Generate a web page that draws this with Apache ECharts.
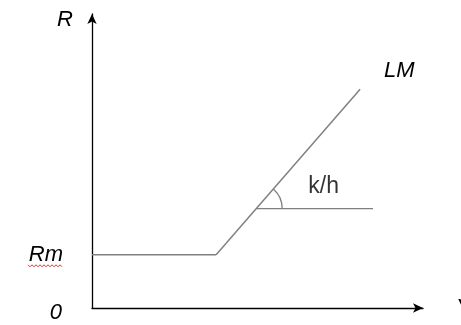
<!DOCTYPE html>
<html>
<head>
<meta charset="utf-8">
<script src="https://cdn.jsdelivr.net/npm/echarts@6/dist/echarts.min.js"></script>
<style>
  html, body { margin: 0; padding: 0; background: #fff; }
  #chart { width: 461px; height: 325px; }
</style>
</head>
<body>
<div id="chart"></div>
<script>
  // data in axis units (x: 0..100 income, y: 0..100 interest rate)
  const rmValue = 18.1
  const rmLine = [[0, 18.1], [37.5, 18.1]]
  const lmLine = [[37.5, 18.1], [81, 74.4]]
  const refLine = [[49.6, 33.8], [84.9, 33.8]]
  const slopeLabel = [[70, 33.8]]
  const axisNames = { x: 'Y', y: 'R' }
  const tickLabels = { 0: '0', [rmValue]: 'Rm' }

  const font = 'Liberation Sans, Arial, sans-serif'
  const fs = 22
  const gray = '#808080'

  const chart = echarts.init(document.getElementById('chart'))

  chart.setOption({
    animation: false,
    grid: { left: 92, right: 38, top: 14, bottom: 17, outerBoundsMode: 'none', containLabel: false },
    xAxis: {
      type: 'value',
      min: 0,
      max: 100,
      name: axisNames.x,
      nameLocation: 'end',
      nameGap: 33,
      nameTextStyle: { fontFamily: font, fontSize: fs, fontStyle: 'italic', color: '#000', padding: [4, 0, 0, 0] },
      axisLine: { show: true, symbol: ['none', 'arrow'], symbolSize: [7, 10], lineStyle: { color: '#000', width: 1.3 } },
      axisTick: { show: false },
      axisLabel: { show: false },
      splitLine: { show: false },
    },
    yAxis: {
      type: 'value',
      min: 0,
      max: 100,
      name: axisNames.y,
      nameLocation: 'end',
      nameGap: -6,
      nameTextStyle: { fontFamily: font, fontSize: fs, fontStyle: 'italic', color: '#000', align: 'right', verticalAlign: 'middle', padding: [0, 19, 0, 0] },
      axisLine: { show: true, symbol: ['none', 'arrow'], symbolSize: [7, 10], lineStyle: { color: '#000', width: 1.3 } },
      axisTick: { show: false },
      splitLine: { show: false },
      axisLabel: {
        show: true,
        margin: 29,
        customValues: [0, rmValue],
        formatter: (v) => (v === 0 ? '{z|' + tickLabels[v] + '}' : '{rm|' + tickLabels[v] + '}'),
        rich: {
          z: { fontFamily: font, fontSize: fs, fontStyle: 'italic', color: '#000', padding: [10, 1, 0, 0] },
          rm: { fontFamily: font, fontSize: fs, fontStyle: 'italic', color: '#000' },
        },
      },
    },
    series: [
      {
        type: 'line',
        data: rmLine,
        symbol: 'none',
        lineStyle: { color: gray, width: 1.5 },
      },
      {
        type: 'line',
        data: lmLine,
        symbol: 'none',
        lineStyle: { color: gray, width: 1.5 },
        endLabel: {
          show: true,
          formatter: 'LM',
          fontFamily: font,
          fontSize: fs,
          fontStyle: 'italic',
          color: '#000',
          offset: [16, -18],
        },
      },
      {
        type: 'line',
        data: refLine,
        symbol: 'none',
        lineStyle: { color: gray, width: 1.3 },
      },
      {
        type: 'scatter',
        data: slopeLabel,
        symbolSize: 0,
        label: {
          show: true,
          formatter: 'k/h',
          position: 'top',
          distance: 10,
          fontFamily: font,
          fontSize: 23,
          color: '#000',
        },
      },
      {
        // angle mark between LM and the horizontal
        type: 'custom',
        data: [0],
        renderItem: (params, api) => {
          const c = api.coord(refLine[0])
          const a = api.coord(lmLine[0])
          const b = api.coord(lmLine[1])
          const ang = Math.atan2(b[1] - a[1], b[0] - a[0])
          return {
            type: 'arc',
            shape: { cx: c[0], cy: c[1], r: 26, startAngle: ang, endAngle: 0, clockwise: true },
            style: { stroke: gray, lineWidth: 1.3, fill: null },
          }
        },
      },
    ],
  })

  // spell-check squiggle under "Rm"
  const p = chart.convertToPixel({ gridIndex: 0 }, [0, rmValue])
  const pts = []
  for (let x = 28; x <= 63; x += 2) pts.push([x, p[1] + 11 + ((x / 2) % 2 ? 1 : -1)])
  chart.setOption({
    graphic: [{ type: 'polyline', shape: { points: pts }, style: { stroke: '#e03030', lineWidth: 1, fill: null } }],
  })
</script>
</body>
</html>
